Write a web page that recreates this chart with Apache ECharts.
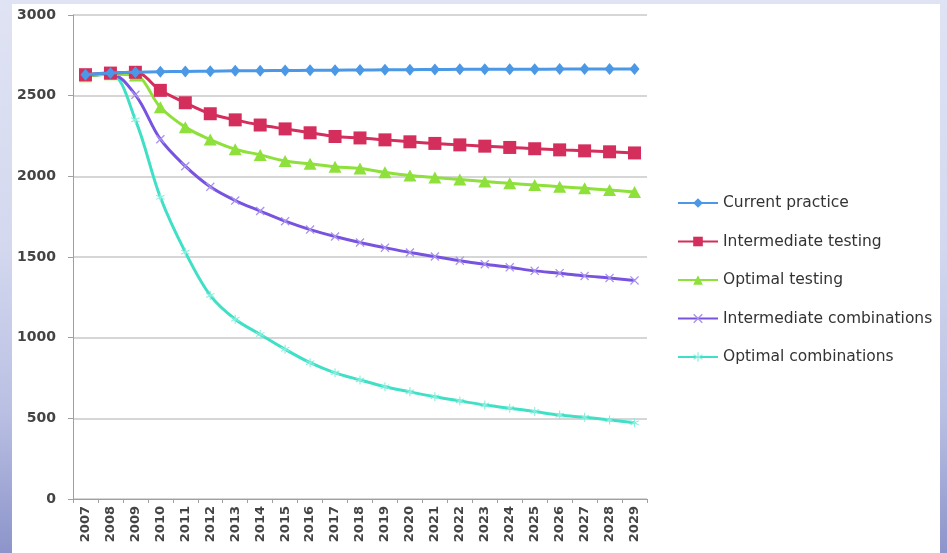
<!DOCTYPE html>
<html>
<head>
<meta charset="utf-8">
<script src="https://cdn.jsdelivr.net/npm/echarts@6/dist/echarts.min.js"></script>
<style>
html,body{margin:0;padding:0;width:947px;height:553px;overflow:hidden;}
body{background:linear-gradient(to bottom,#dfe3f3 0%,#d3d8ef 45%,#b9bfe2 75%,#8c94ca 100%);position:relative;}
#panel{position:absolute;left:12px;top:4px;width:928px;height:549px;background:#ffffff;}
#chart{position:absolute;left:0;top:0;width:947px;height:553px;}
</style>
</head>
<body>
<div id="panel"></div>
<div id="chart"></div>
<script>
const years = ['2007','2008','2009','2010','2011','2012','2013','2014','2015','2016','2017','2018','2019','2020','2021','2022','2023','2024','2025','2026','2027','2028','2029'];
const seriesNames = ['Current practice','Intermediate testing','Optimal testing','Intermediate combinations','Optimal combinations'];
const currentPractice = [2630,2640,2645,2648,2650,2652,2654,2655,2656,2657,2658,2659,2660,2661,2662,2663,2663,2664,2664,2665,2665,2665,2665];
const intermediateTesting = [2630,2640,2645,2533,2456,2388,2350,2318,2294,2270,2247,2238,2226,2214,2204,2195,2187,2179,2171,2164,2158,2152,2145];
const optimalTesting = [2620,2632,2625,2428,2305,2228,2168,2133,2095,2078,2060,2048,2025,2005,1992,1980,1968,1957,1946,1936,1926,1915,1903];
const intermediateCombinations = [2620,2635,2505,2230,2063,1935,1850,1785,1722,1670,1627,1590,1558,1528,1503,1477,1455,1436,1414,1400,1383,1370,1355];
const optimalCombinations = [2620,2635,2350,1870,1530,1262,1114,1020,928,845,782,738,696,664,634,608,582,563,542,520,506,490,472];

const colors = ['#4a98e6','#d42f5c','#8ee03a','#7853e0','#3fe0c6'];
const xPath = 'path://M1,0 L5,4 L9,0 L10,1 L6,5 L10,9 L9,10 L5,6 L1,10 L0,9 L4,5 L0,1 Z';
const starPath = 'path://M4.4,0 L5.6,0 L5.6,4.1 L9.3,2.2 L9.9,3.2 L6.3,5 L9.9,6.8 L9.3,7.8 L5.6,5.9 L5.6,10 L4.4,10 L4.4,5.9 L0.7,7.8 L0.1,6.8 L3.7,5 L0.1,3.2 L0.7,2.2 L4.4,4.1 Z';

const data = [currentPractice, intermediateTesting, optimalTesting, intermediateCombinations, optimalCombinations];
const symbols = ['diamond','rect','triangle',xPath,starPath];
const sizes = [[10,12],13,[13,12],9,9];
const symColors = ['#4a98e6','#d42f5c','#8ee03a','#a892ee','#8aeedd'];

const chart = echarts.init(document.getElementById('chart'), null, {renderer:'canvas'});
chart.setOption({
  animation:false,
  backgroundColor:'transparent',
  grid:{left:73,right:300,top:15,bottom:54,containLabel:false},
  legend:{
    orient:'vertical',left:672,top:190,itemWidth:40,itemHeight:12,itemGap:22.5,
    textStyle:{fontFamily:'DejaVu Sans',fontSize:15.5,color:'#333'},
    data:seriesNames
  },
  xAxis:{
    type:'category',data:years,boundaryGap:true,
    axisLine:{lineStyle:{color:'#a0a0a0',width:1}},
    axisTick:{show:true,length:4,lineStyle:{color:'#a0a0a0'}},
    axisLabel:{rotate:90,interval:0,margin:7,fontFamily:'DejaVu Sans',fontSize:13,fontWeight:'bold',color:'#444'}
  },
  yAxis:{
    type:'value',min:0,max:3000,interval:500,
    axisLine:{show:true,lineStyle:{color:'#a0a0a0',width:1}},
    axisTick:{show:true,length:5,lineStyle:{color:'#a0a0a0'}},
    splitLine:{lineStyle:{color:'#c8c8c8',width:1.5}},
    axisLabel:{margin:17,fontFamily:'DejaVu Sans',fontSize:14,fontWeight:'bold',color:'#444',formatter:v=>String(v)}
  },
  series: seriesNames.map((n,i)=>({
    name:n,type:'line',data:data[i],smooth:0.35,
    symbol:symbols[i],symbolSize:sizes[i],
    lineStyle:{color:colors[i],width:3},
    itemStyle:{color:symColors[i]},
    color:colors[i],
    z:10-i
  }))
});
</script>
</body>
</html>
